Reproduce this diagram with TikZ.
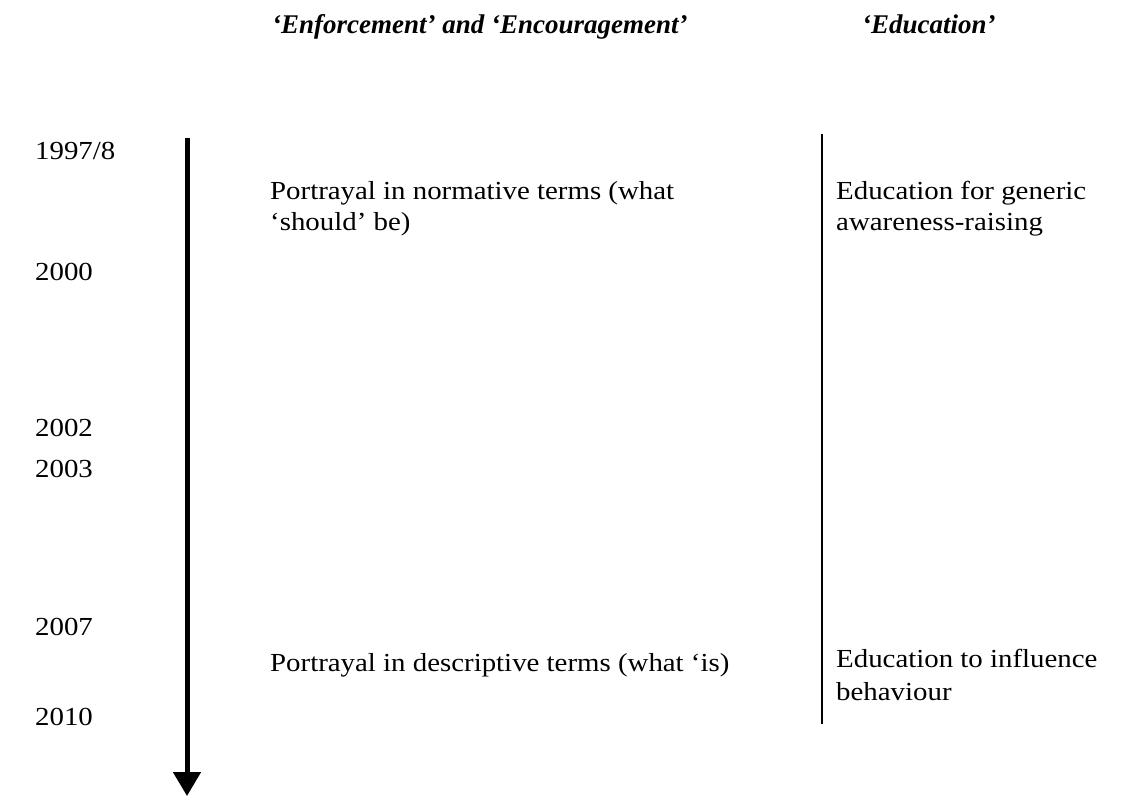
\documentclass[tikz,border=0pt]{standalone}
\usepackage{fontspec}
\setmainfont{Liberation Serif}[FakeStretch=1.11]
\newfontfamily\headfont{Liberation Serif}
\usetikzlibrary{arrows.meta}

\tikzset{
  body/.style={anchor=base west, inner sep=0pt, font=\fontsize{26}{31}\selectfont},
  yearlbl/.style={body},
  heading/.style={anchor=base west, inner sep=0pt,
    font=\headfont\fontsize{27}{32}\selectfont\bfseries\itshape},
  timeline/.style={line width=5pt, -{Triangle[length=24pt,width=27pt]}},
  divider/.style={line width=2pt}
}

\begin{document}
\begin{tikzpicture}[x=1pt, y=-1pt]
  \useasboundingbox (0,0) rectangle (1127,796);

  % column headings
  \node[heading] (h1) at (272,33) {‘Enforcement’ and ‘Encouragement’};
  \node[heading] (h2) at (862,33) {‘Education’};

  % years
  \node[yearlbl] (y1) at (35,159) {1997/8};
  \node[yearlbl] (y2) at (35,280) {2000};
  \node[yearlbl] (y3) at (35,436) {2002};
  \node[yearlbl] (y4) at (35,477) {2003};
  \node[yearlbl] (y5) at (35,635) {2007};
  \node[yearlbl] (y6) at (35,725) {2010};

  % time arrow
  \coordinate (tTop) at (187,138);
  \coordinate (tEnd) at (187,796);
  \draw[timeline] (tTop) -- (tEnd);

  % column divider
  \coordinate (dTop) at (822,134);
  \coordinate (dEnd) at (822,724);
  \draw[divider] (dTop) -- (dEnd);

  % entries
  \node[body] (p1a) at (270,199) {Portrayal in normative terms (what};
  \node[body] (p1b) at (270,230) {‘should’ be)};
  \node[body] (e1a) at (836,199) {Education for generic};
  \node[body] (e1b) at (836,230) {awareness-raising};

  \node[body] (p2) at (270,671) {Portrayal in descriptive terms (what ‘is)};
  \node[body] (e2a) at (836,667) {Education to influence};
  \node[body] (e2b) at (836,700) {behaviour};
\end{tikzpicture}
\end{document}
